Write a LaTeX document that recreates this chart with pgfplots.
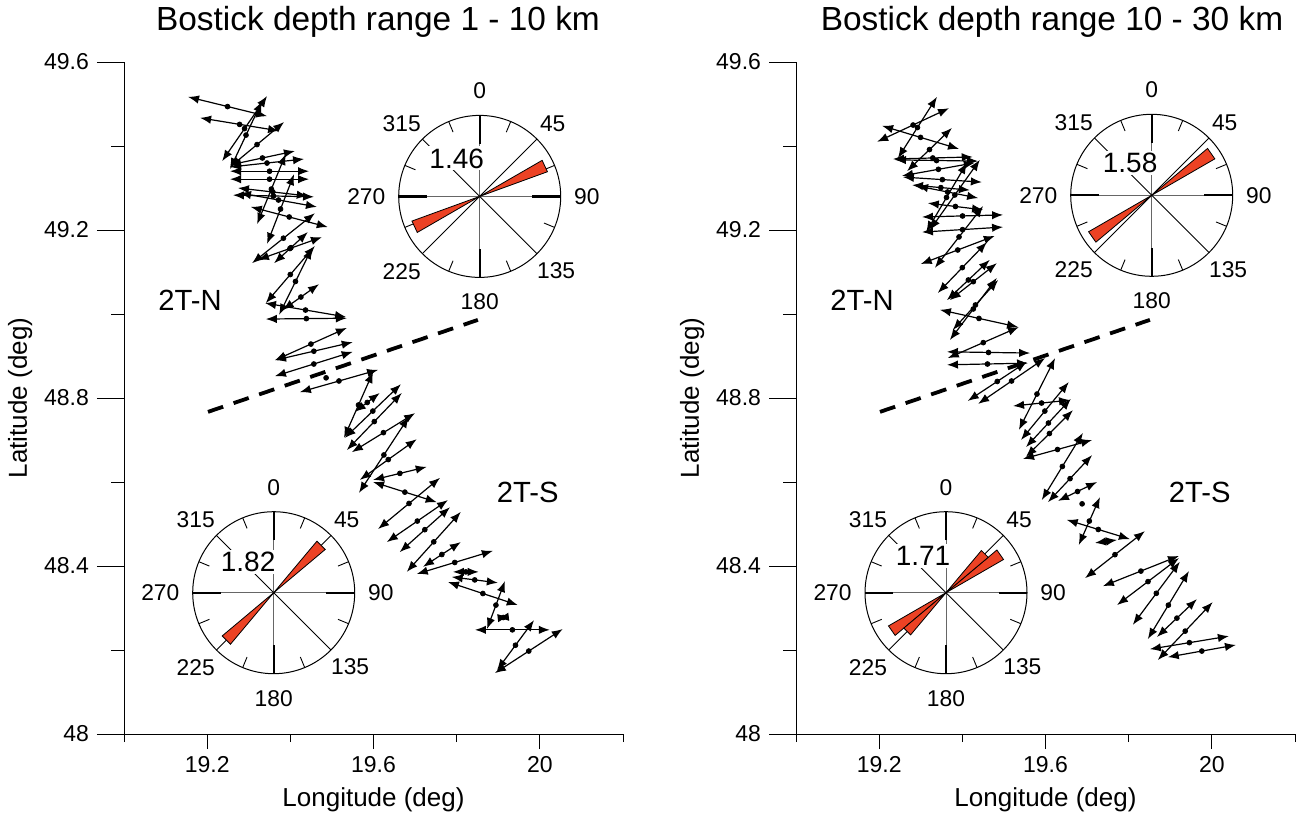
\documentclass[border=0pt]{standalone}
\usepackage{pgfplots}
\pgfplotsset{compat=1.18}
\usepackage{pgfplotstable}
\usepackage{fontspec}
\setmainfont{Liberation Sans}
\usetikzlibrary{arrows.meta}
\definecolor{rosered}{RGB}{236,66,36}

\pgfplotstableread[row sep=\\]{
x1 y1 x2 y2\\
19.154 49.517 19.344 49.471\\
19.183 49.467 19.373 49.436\\
19.236 49.364 19.344 49.519\\
19.255 49.345 19.332 49.507\\
19.255 49.350 19.385 49.457\\
19.255 49.355 19.411 49.388\\
19.255 49.350 19.433 49.369\\
19.255 49.340 19.445 49.340\\
19.255 49.321 19.445 49.321\\
19.320 49.214 19.389 49.381\\
19.344 49.167 19.409 49.333\\
19.274 49.300 19.442 49.281\\
19.262 49.283 19.457 49.279\\
19.279 49.288 19.464 49.255\\
19.305 49.255 19.490 49.207\\
19.308 49.121 19.459 49.240\\
19.322 49.129 19.476 49.183\\
19.361 49.121 19.442 49.195\\
19.341 49.026 19.459 49.162\\
19.373 48.998 19.452 49.157\\
19.382 49.010 19.469 49.071\\
19.339 49.026 19.534 48.993\\
19.341 48.988 19.536 48.990\\
19.363 48.890 19.536 48.967\\
19.363 48.890 19.550 48.933\\
19.363 48.852 19.550 48.910\\
19.423 48.814 19.611 48.867\\
19.529 48.705 19.599 48.862\\
19.555 48.767 19.615 48.812\\
19.531 48.705 19.666 48.833\\
19.536 48.676 19.668 48.812\\
19.548 48.671 19.700 48.764\\
19.567 48.605 19.704 48.702\\
19.565 48.574 19.685 48.755\\
19.599 48.605 19.728 48.636\\
19.599 48.600 19.752 48.552\\
19.611 48.488 19.760 48.610\\
19.632 48.457 19.779 48.557\\
19.663 48.433 19.784 48.540\\
19.680 48.386 19.810 48.529\\
19.719 48.398 19.810 48.457\\
19.704 48.381 19.887 48.436\\
19.791 48.386 19.853 48.386\\
19.788 48.374 19.899 48.360\\
19.779 48.362 19.947 48.307\\
19.873 48.250 19.916 48.364\\
19.899 48.276 19.925 48.279\\
19.844 48.248 20.024 48.248\\
19.897 48.152 19.986 48.271\\
19.892 48.145 20.055 48.250\\
}\leftarrows

\pgfplotstableread[row sep=\\]{
x1 y1 x2 y2\\
19.195 49.410 19.368 49.490\\
19.207 49.448 19.392 49.393\\
19.245 49.371 19.339 49.517\\
19.267 49.340 19.375 49.443\\
19.233 49.369 19.425 49.374\\
19.238 49.367 19.438 49.364\\
19.255 49.329 19.430 49.360\\
19.257 49.326 19.447 49.314\\
19.279 49.307 19.418 49.295\\
19.291 49.305 19.438 49.276\\
19.313 49.195 19.411 49.360\\
19.322 49.200 19.442 49.367\\
19.317 49.264 19.450 49.248\\
19.303 49.231 19.498 49.236\\
19.303 49.195 19.498 49.207\\
19.334 49.110 19.450 49.257\\
19.300 49.119 19.478 49.186\\
19.341 49.050 19.459 49.171\\
19.363 49.033 19.466 49.129\\
19.370 49.033 19.483 49.121\\
19.346 49.010 19.534 48.969\\
19.377 48.962 19.486 49.081\\
19.370 48.938 19.483 49.086\\
19.365 48.895 19.536 48.969\\
19.363 48.910 19.563 48.907\\
19.363 48.879 19.558 48.883\\
19.413 48.793 19.555 48.886\\
19.438 48.786 19.599 48.895\\
19.536 48.724 19.623 48.895\\
19.522 48.781 19.659 48.795\\
19.541 48.700 19.656 48.838\\
19.553 48.683 19.661 48.798\\
19.553 48.660 19.666 48.771\\
19.546 48.655 19.712 48.700\\
19.591 48.557 19.690 48.717\\
19.606 48.552 19.712 48.664\\
19.630 48.555 19.724 48.600\\
19.680 48.450 19.731 48.564\\
19.651 48.510 19.803 48.464\\
19.719 48.455 19.772 48.462\\
19.695 48.371 19.839 48.483\\
19.738 48.352 19.921 48.424\\
19.772 48.307 19.921 48.419\\
19.810 48.260 19.923 48.410\\
19.846 48.226 19.945 48.388\\
19.868 48.231 19.964 48.321\\
19.870 48.176 20.002 48.314\\
19.851 48.202 20.041 48.233\\
19.894 48.183 20.058 48.212\\
}\rightarrows

\pgfplotsset{
  mainax/.style={
    scale only axis, width=249.5pt, height=336pt,
    xmin=19, xmax=20.2, ymin=48, ymax=49.6,
    axis x line*=bottom, axis y line*=left,
    axis line style={-, line width=0.5pt},
    tick align=outside,
    xtick={19.2,19.6,20}, minor xtick={19,19.4,19.8,20.2},
    ytick={48,48.4,48.8,49.2,49.6}, minor ytick={48.2,48.6,49,49.4},
    major tick length=7.5pt, minor tick length=4pt,
    ytick style={/pgfplots/major tick length=13.5pt, /pgfplots/minor tick length=6.5pt},
    tick style={line width=0.5pt, black},
    ticklabel style={font=\fontsize{11.5}{12}\selectfont},
    yticklabel style={xshift=-6.5pt},
    /pgf/number format/assume math mode=true,
    /pgf/number format/fixed,
    xlabel={Longitude (deg)}, ylabel={Latitude (deg)},
    every axis x label/.style={at={(axis description cs:0.5,-0.098)}, anchor=center, font=\fontsize{13}{14}\selectfont},
    every axis y label/.style={at={(axis description cs:-0.208,0.5)}, anchor=center, rotate=90, font=\fontsize{13}{14}\selectfont},
    every axis title/.style={anchor=center, font=\fontsize{16.7}{18}\selectfont},
    no markers,
  },
  arr/.style={quiver={u=\thisrow{x2}-\thisrow{x1}, v=\thisrow{y2}-\thisrow{y1}},
    {Latex[length=5.5pt,width=4.2pt]}-{Latex[length=5.5pt,width=4.2pt]}, line width=0.6pt, black},
  dots/.style={only marks, mark=*, mark size=1.2pt, black},
  dashl/.style={black, line width=1.9pt, dash pattern=on 8pt off 5.5pt},
  roseax/.style={anchor=center, hide axis, scale only axis, width=81pt, height=81pt,
    xmin=-1, xmax=1, ymin=-1, ymax=1, clip=false, no markers},
  wedge/.style={fill=rosered, draw=black, line width=0.4pt},
}

\newcommand{\rosebg}[2]{%
\begin{scope}[shift={(#1,#2)}]
  \fill[white] (0,0) circle (40.5pt);
  \draw[black!60, line width=0.45pt] (0,-40.5pt) -- (0,40.5pt) (-40.5pt,0) -- (40.5pt,0);
  \draw[black, line width=0.45pt] (45:40.5pt) -- (225:40.5pt) (135:40.5pt) -- (315:40.5pt);
  \foreach \a in {0,90,180,270} \draw[black, line width=1.1pt] (\a:26.3pt) -- (\a:40.5pt);
  \foreach \a in {22.5,67.5,...,337.5} \draw[black, line width=0.45pt] (\a:34.8pt) -- (\a:40.5pt);
  \draw[black, line width=0.5pt] (0,0) circle (40.5pt);
\end{scope}}

\newcommand{\roselab}[5]{%
\begin{scope}[shift={(#1,#2)}, every node/.style={font=\fontsize{11.4}{12}\selectfont, inner sep=0pt}]
  \node[anchor=south] at (0,48.5pt) {0};
  \node[anchor=north] at (0,-48.5pt) {180};
  \node[anchor=west] at (47pt,0) {90};
  \node[anchor=east] at (-47pt,0) {270};
  \node at (36.5pt,36.4pt) {45};
  \node at (-39pt,36.4pt) {315};
  \node at (38.2pt,-37.1pt) {135};
  \node at (-39pt,-37.4pt) {225};
  \node[fill=white, inner sep=1pt, font=\fontsize{14}{14}\selectfont] at (#4,#5) {#3};
\end{scope}}

\begin{document}
\begin{tikzpicture}
\path[use as bounding box] (0,0) rectangle (653pt,416pt);

% ---------------- left panel ----------------
\begin{axis}[mainax, at={(62pt,49pt)}, anchor=south west,
  title={Bostick depth range 1 - 10 km},
  title style={at={(axis description cs:0.509,1.0595)}}]
  \addplot[dashl] coordinates {(19.202,48.767) (19.851,48.986)};
  \addplot[arr] table[x=x1, y=y1] {\leftarrows};
  \addplot[dots] table[x expr=(\thisrow{x1}+\thisrow{x2})/2, y expr=(\thisrow{y1}+\thisrow{y2})/2] {\leftarrows};
  \addplot[dots] coordinates {(19.486,48.848)};
  \node[font=\fontsize{14.6}{15}\selectfont] at (axis cs:19.159,49.033) {2T-N};
  \node[font=\fontsize{14.6}{15}\selectfont] at (axis cs:19.971,48.576) {2T-S};
\end{axis}

% ---------------- right panel ----------------
\begin{axis}[mainax, at={(398pt,49pt)}, anchor=south west,
  title={Bostick depth range 10 - 30 km},
  title style={at={(axis description cs:0.513,1.0595)}}]
  \addplot[dashl] coordinates {(19.202,48.767) (19.851,48.986)};
  \addplot[arr] table[x=x1, y=y1] {\rightarrows};
  \addplot[dots] table[x expr=(\thisrow{x1}+\thisrow{x2})/2, y expr=(\thisrow{y1}+\thisrow{y2})/2] {\rightarrows};
  \addplot[dots] coordinates {(19.688,48.548)};
  \node[font=\fontsize{14.6}{15}\selectfont] at (axis cs:19.159,49.033) {2T-N};
  \node[font=\fontsize{14.6}{15}\selectfont] at (axis cs:19.971,48.576) {2T-S};
\end{axis}

% ---------------- roses ----------------
\rosebg{239.85pt}{317.8pt}
\begin{axis}[roseax, at={(239.85pt,317.8pt)}]
  \addplot[wedge] coordinates {(0,0) (0.7708,0.445) (0.8363,0.3044) (0,0)};
  \addplot[wedge] coordinates {(0,0) (-0.7708,-0.445) (-0.8363,-0.3044) (0,0)};
\end{axis}
\roselab{239.85pt}{317.8pt}{1.46}{-11.5pt}{19pt}

\rosebg{136.85pt}{119.65pt}
\begin{axis}[roseax, at={(136.85pt,119.65pt)}]
  \addplot[wedge] coordinates {(0,0) (0.5335,0.6358) (0.6358,0.5335) (0,0)};
  \addplot[wedge] coordinates {(0,0) (-0.5335,-0.6358) (-0.6358,-0.5335) (0,0)};
\end{axis}
\roselab{136.85pt}{119.65pt}{1.82}{-12.8pt}{15.2pt}

\rosebg{575.85pt}{318.35pt}
\begin{axis}[roseax, at={(575.85pt,318.35pt)}]
  \addplot[wedge] coordinates {(0,0) (0.6894,0.5785) (0.7794,0.45) (0,0)};
  \addplot[wedge] coordinates {(0,0) (-0.6894,-0.5785) (-0.7794,-0.45) (0,0)};
\end{axis}
\roselab{575.85pt}{318.35pt}{1.58}{-10.8pt}{16pt}

\rosebg{473pt}{119.65pt}
\begin{axis}[roseax, at={(473pt,119.65pt)}]
  \addplot[wedge] coordinates {(0,0) (0.6281,0.5271) (0.7101,0.41) (0,0)};
  \addplot[wedge] coordinates {(0,0) (-0.6281,-0.5271) (-0.7101,-0.41) (0,0)};
  \addplot[wedge] coordinates {(0,0) (0.4371,0.5209) (0.5209,0.4371) (0,0)};
  \addplot[wedge] coordinates {(0,0) (-0.4371,-0.5209) (-0.5209,-0.4371) (0,0)};
\end{axis}
\roselab{473pt}{119.65pt}{1.71}{-11.5pt}{18.3pt}

\end{tikzpicture}
\end{document}
